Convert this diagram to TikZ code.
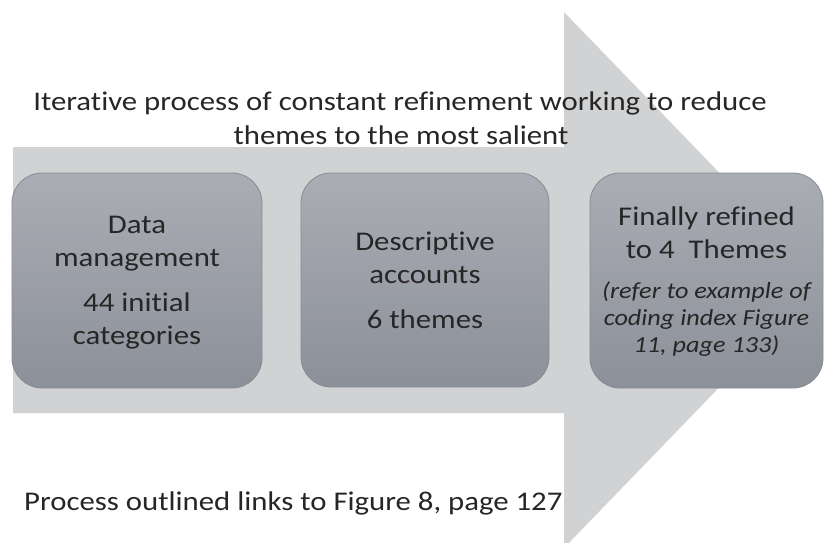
\documentclass[tikz,border=0pt]{standalone}
\usepackage{fontspec}
\setmainfont{Carlito}[Ligatures=NoCommon, FakeStretch=1.14]
\definecolor{arrowgray}{RGB}{208,210,212}
\definecolor{boxtop}{RGB}{170,173,180}
\definecolor{boxbot}{RGB}{140,144,152}
\definecolor{boxedge}{RGB}{135,139,147}
\definecolor{txt}{RGB}{38,38,38}
\newcommand\topstr{\rule{0pt}{30pt}}
\newcommand\botstr[1]{\rule[-#1pt]{0pt}{0pt}}
\newcommand\smit{\fontsize{23}{27}\selectfont\itshape}
\tikzset{
  stagebox/.style={rounded corners=30pt, top color=boxtop, bottom color=boxbot,
    draw=boxedge, line width=0.8pt, inner sep=0pt, text=txt, align=center,
    font=\fontsize{27}{33}\selectfont},
  caption/.style={text=txt, font=\fontsize{27}{34.5}\selectfont, inner sep=0pt, anchor=base}
}
\begin{document}
\begin{tikzpicture}[x=1pt,y=-1pt]
\useasboundingbox (0,0) rectangle (828,542);
\clip (0,0) rectangle (828,542);
% big arrow
\fill[arrowgray] (13,147) -- (564,147) -- (564,12) -- (823,280) -- (564,548) -- (564,413) -- (13,413) -- cycle;
% captions
\node[caption] (t1) at (400,110) {Iterative process of constant refinement working to reduce};
\node[caption] (t2) at (401,144.5) {themes to the most salient};
\node[caption, anchor=base west] (b1) at (24,510) {Process outlined links to Figure 8, page 127};
% boxes
\node[stagebox, minimum width=250pt, minimum height=215pt] (s1) at (137,280.5)
  {\topstr Data\\management\\[12pt]44 initial\\categories\botstr{14}};
\node[stagebox, minimum width=248pt, minimum height=214pt] (s2) at (425,280)
  {\topstr Descriptive\\accounts\\[12pt]6 themes\botstr{12}};
\node[stagebox, minimum width=233pt, minimum height=215pt] (s3) at (706.5,280.5)
  {\topstr Finally refined\\to 4\ \ Themes\\[7.5pt]\smit (refer to example of\\[-6pt]\smit coding index Figure\\[-6pt]\smit 11, page 133)\botstr{13.4}};
\end{tikzpicture}
\end{document}
